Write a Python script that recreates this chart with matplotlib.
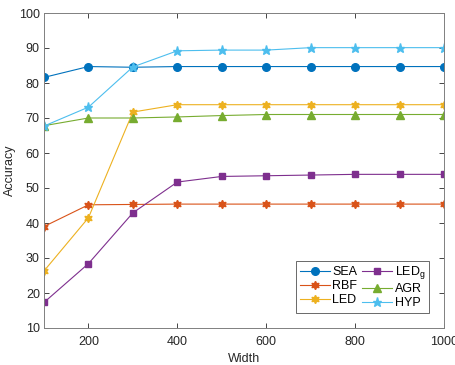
import matplotlib
matplotlib.use("Agg")
import matplotlib.pyplot as plt

plt.rcParams['font.family'] = ['Liberation Sans', 'DejaVu Sans']

width = [100, 200, 300, 400, 500, 600, 700, 800, 900, 1000]
sea = [81.6, 84.7, 84.5, 84.7, 84.7, 84.7, 84.7, 84.7, 84.7, 84.7]
rbf = [39.0, 45.2, 45.3, 45.4, 45.4, 45.4, 45.4, 45.4, 45.4, 45.4]
led = [26.3, 41.5, 71.7, 73.8, 73.8, 73.8, 73.8, 73.8, 73.8, 73.8]
ledg = [17.3, 28.4, 42.9, 51.7, 53.3, 53.5, 53.7, 53.9, 53.9, 53.9]
agr = [67.8, 70.0, 70.0, 70.3, 70.7, 71.0, 71.0, 71.0, 71.0, 71.0]
hyp = [67.7, 73.1, 84.6, 89.2, 89.4, 89.4, 90.1, 90.1, 90.1, 90.1]

fig = plt.figure(figsize=(4.55, 3.65), dpi=100)
ax = fig.add_axes([44/455, 37/365, 400/455, 315/365])

hexa = (6, 1, 0)
lw = 0.8
ax.plot(width, sea, color='#0072BD', marker='o', ms=5.5, lw=lw, label='SEA')
ax.plot(width, rbf, color='#D95319', marker=hexa, ms=6, lw=lw, label='RBF')
ax.plot(width, led, color='#EDB120', marker=hexa, ms=6, lw=lw, label='LED')
ax.plot(width, ledg, color='#7E2F8E', marker='s', ms=4.5, lw=lw, label='LED$_\\mathregular{g}$')
ax.plot(width, agr, color='#77AC30', marker='^', ms=6, lw=lw, label='AGR')
ax.plot(width, hyp, color='#4DBEEE', marker='*', ms=6.5, lw=lw, label='HYP')

ax.set_xlim(100, 1000)
ax.set_ylim(10, 100)
ax.set_xticks([200, 400, 600, 800, 1000])
ax.set_yticks(range(10, 101, 10))
ax.tick_params(direction='in', top=True, right=True, labelsize=9, colors='#262626',
               length=3.5, width=0.6, pad=3)
ax.tick_params(axis='x', pad=6)
for t in ax.get_xticklines() + ax.get_yticklines():
    t.set_color('#808080')
for s in ax.spines.values():
    s.set_color('#808080')
    s.set_linewidth(0.7)
ax.set_xlabel('Width', fontsize=9, color='#262626', labelpad=3)
ax.set_ylabel('Accuracy', fontsize=9, color='#262626', labelpad=2)

leg = ax.legend(ncol=2, loc='lower right', fontsize=9, frameon=True, fancybox=False,
                edgecolor='#262626', handlelength=2.4, columnspacing=0.4, handletextpad=0.2,
                labelspacing=0.15, borderpad=0.3, borderaxespad=0.7, bbox_to_anchor=(0.985, 0.02))
leg.get_frame().set_linewidth(0.6)

fig.savefig('out.png', dpi=100)
